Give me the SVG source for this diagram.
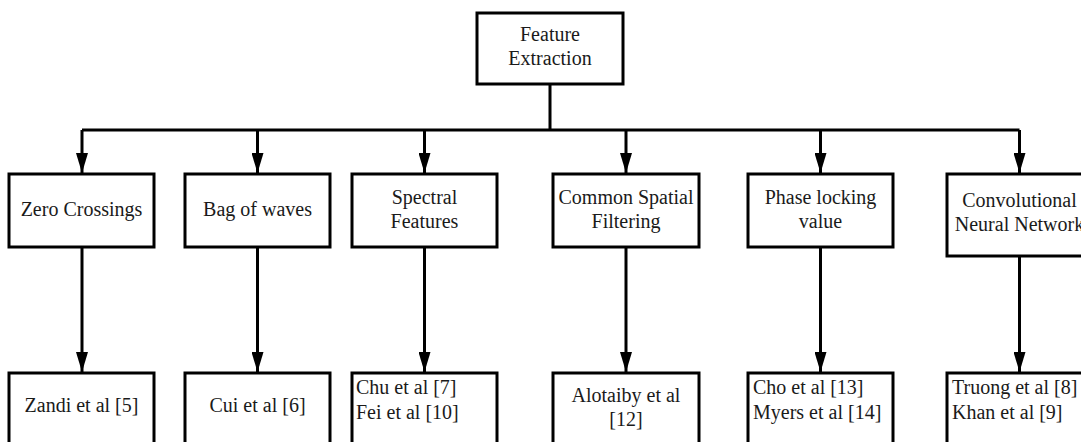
<svg xmlns="http://www.w3.org/2000/svg" width="1081" height="442" viewBox="0 0 1081 442">
<defs>
<style>
.box{fill:#fff;stroke:#000;stroke-width:3}
.t{font-family:'Liberation Serif','Times New Roman','DejaVu Serif',serif;font-size:20px;fill:#1a1a1a}
.c{text-anchor:middle}
.ln{stroke:#000;stroke-width:3;fill:none}
</style>
<marker id="ah" markerUnits="userSpaceOnUse" markerWidth="20" markerHeight="12" viewBox="0 0 20 12" refX="20" refY="6" orient="auto">
<path d="M0,0 L20,6 L0,12 z" fill="#000"/>
</marker>
</defs>
<rect width="1081" height="442" fill="#fff"/>
<g id="connectors">
<path class="ln" d="M550,84 V130 M82,130 H1019.5"/>
<path class="ln" d="M82,130 V173" marker-end="url(#ah)"/>
<path class="ln" d="M257.5,130 V173" marker-end="url(#ah)"/>
<path class="ln" d="M424.5,130 V173" marker-end="url(#ah)"/>
<path class="ln" d="M626,130 V173" marker-end="url(#ah)"/>
<path class="ln" d="M820.5,130 V173" marker-end="url(#ah)"/>
<path class="ln" d="M1019.5,130 V173" marker-end="url(#ah)"/>
<path class="ln" d="M82,247 V372" marker-end="url(#ah)"/>
<path class="ln" d="M257.5,247 V372" marker-end="url(#ah)"/>
<path class="ln" d="M424.5,247 V372" marker-end="url(#ah)"/>
<path class="ln" d="M626,247 V372" marker-end="url(#ah)"/>
<path class="ln" d="M820.5,247 V372" marker-end="url(#ah)"/>
<path class="ln" d="M1019.5,256 V372" marker-end="url(#ah)"/>
</g>
<g id="feature-extraction">
<rect class="box" x="477" y="13" width="146" height="71"/>
<text class="t c" font-family="Liberation Serif, serif" x="550" y="41">Feature</text>
<text class="t c" font-family="Liberation Serif, serif" x="550" y="65">Extraction</text>
</g>
<g id="zero-crossings">
<rect class="box" x="9" y="174" width="145" height="73"/>
<text class="t c" x="81.5" y="216">Zero Crossings</text>
</g>
<g id="bag-of-waves">
<rect class="box" x="185" y="174" width="145" height="73"/>
<text class="t c" x="257.5" y="216">Bag of waves</text>
</g>
<g id="spectral-features">
<rect class="box" x="352" y="174" width="145" height="73"/>
<text class="t c" x="424.5" y="204">Spectral</text>
<text class="t c" x="424.5" y="228">Features</text>
</g>
<g id="common-spatial-filtering">
<rect class="box" x="553" y="174" width="146" height="73"/>
<text class="t c" x="626" y="204">Common Spatial</text>
<text class="t c" x="626" y="228">Filtering</text>
</g>
<g id="phase-locking-value">
<rect class="box" x="748" y="174" width="145" height="73"/>
<text class="t c" x="820.5" y="204">Phase locking</text>
<text class="t c" x="820.5" y="228">value</text>
</g>
<g id="cnn">
<rect class="box" x="947" y="174" width="145" height="82"/>
<text class="t c" x="1019.5" y="207">Convolutional</text>
<text class="t c" x="1019.5" y="231">Neural Network</text>
</g>
<g id="zandi">
<rect class="box" x="9" y="373" width="145" height="100"/>
<text class="t c" x="81.5" y="412">Zandi et al [5]</text>
</g>
<g id="cui">
<rect class="box" x="185" y="373" width="145" height="100"/>
<text class="t c" x="257.5" y="412">Cui et al [6]</text>
</g>
<g id="chu-fei">
<rect class="box" x="352" y="373" width="145" height="100"/>
<text class="t" x="356" y="394">Chu et al [7]</text>
<text class="t" x="356" y="419">Fei et al [10]</text>
</g>
<g id="alotaiby">
<rect class="box" x="553" y="373" width="146" height="100"/>
<text class="t c" x="626" y="402">Alotaiby et al</text>
<text class="t c" x="626" y="426">[12]</text>
</g>
<g id="cho-myers">
<rect class="box" x="748" y="373" width="145" height="100"/>
<text class="t" x="753" y="394">Cho et al [13]</text>
<text class="t" x="753" y="419">Myers et al [14]</text>
</g>
<g id="truong-khan">
<rect class="box" x="947" y="373" width="145" height="100"/>
<text class="t" x="952" y="394">Truong et al [8]</text>
<text class="t" x="952" y="419">Khan et al [9]</text>
</g>
</svg>
